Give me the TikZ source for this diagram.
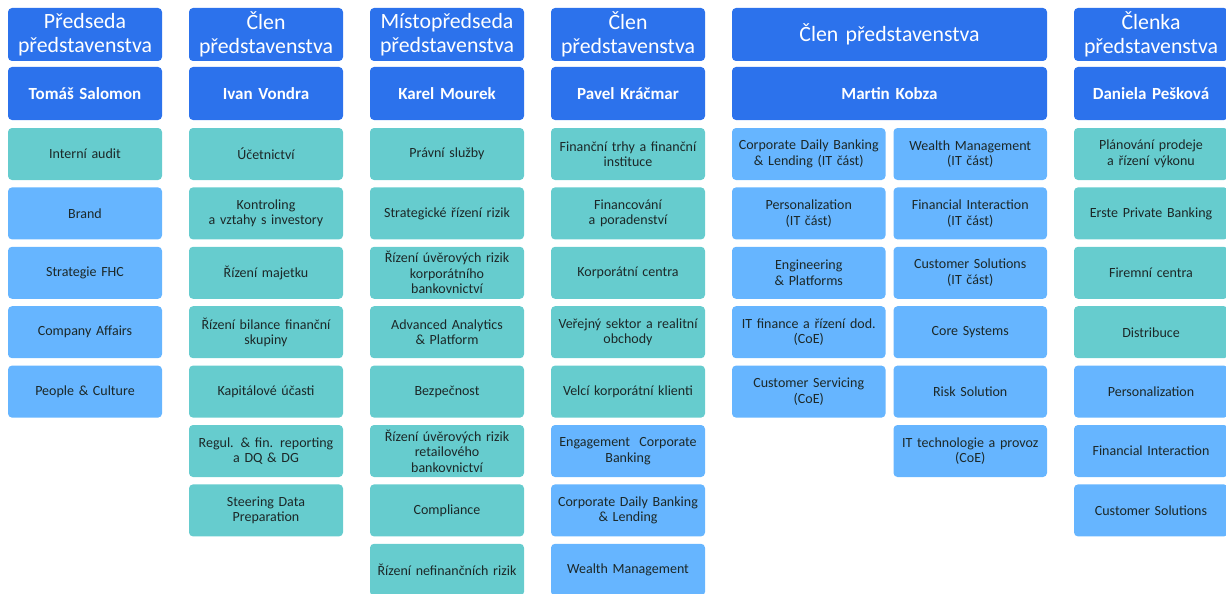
\documentclass[tikz,border=0pt]{standalone}
\usepackage{fontspec}
\setmainfont{Carlito}
\usetikzlibrary{positioning}
\definecolor{bdblue}{RGB}{44,114,236}
\definecolor{bdlightblue}{RGB}{102,181,255}
\definecolor{bdteal}{RGB}{102,204,206}
\definecolor{bdtext}{RGB}{28,40,40}
\tikzstyle{box} = [rectangle, rounded corners=4pt, inner sep=1pt, outer sep=0pt, minimum width=154pt, minimum height=52pt, text width=152pt, align=center]

\begin{document}
\begin{tikzpicture}[
    x=1pt, y=-1pt,
    node distance=7.4pt,
    headbox/.style={box, fill=bdblue, text=white, minimum height=53pt, font=\fontsize{21.8}{24}\selectfont},
    namebox/.style={box, fill=bdblue, text=white, minimum height=53pt, font=\bfseries\fontsize{17}{20}\selectfont},
    tealbox/.style={box, fill=bdteal, text=bdtext, font=\fontsize{14}{15.5}\selectfont},
    bluebox/.style={box, fill=bdlightblue, text=bdtext, font=\fontsize{14}{15.5}\selectfont},
    wide/.style={minimum width=315pt, text width=313pt},
    half/.style={minimum width=153.5pt, text width=151.5pt}
]
\useasboundingbox (0,0) rectangle (1226,594);

% Předseda
\node[headbox] (predseda) at (85,34.5) {Předseda\\představenstva};
\node[namebox, below=6pt of predseda] (salomon) {Tomáš Salomon};
\node[tealbox, below=8pt of salomon] (audit) {Interní audit};
\node[bluebox, below=of audit] (brand) {Brand};
\node[bluebox, below=of brand] (strategie) {Strategie FHC};
\node[bluebox, below=of strategie] (affairs) {Company Affairs};
\node[bluebox, below=of affairs] (people) {People \& Culture};

% Člen - Vondra
\node[headbox] (clenA) at (266,34.5) {Člen\\představenstva};
\node[namebox, below=6pt of clenA] (vondra) {Ivan Vondra};
\node[tealbox, below=8pt of vondra] (ucetnictvi) {Účetnictví};
\node[tealbox, below=of ucetnictvi] (kontroling) {Kontroling\\a vztahy s investory};
\node[tealbox, below=of kontroling] (majetek) {Řízení majetku};
\node[tealbox, below=of majetek] (bilance) {Řízení bilance finanční\\skupiny};
\node[tealbox, below=of bilance] (ucasti) {Kapitálové účasti};
\node[tealbox, below=of ucasti] (reporting) {Regul. \& fin. reporting\\a DQ \& DG};
\node[tealbox, below=of reporting] (steering) {Steering Data\\Preparation};

% Místopředseda
\node[headbox] (mistopredseda) at (447,34.5) {Místopředseda\\představenstva};
\node[namebox, below=6pt of mistopredseda] (mourek) {Karel Mourek};
\node[tealbox, below=8pt of mourek] (pravni) {Právní služby};
\node[tealbox, below=of pravni] (strategicke) {Strategické řízení rizik};
\node[tealbox, below=of strategicke] (korprizika) {Řízení úvěrových rizik\\korporátního\\bankovnictví};
\node[tealbox, below=of korprizika] (analytics) {Advanced Analytics\\\& Platform};
\node[tealbox, below=of analytics] (bezpecnost) {Bezpečnost};
\node[tealbox, below=of bezpecnost] (retailrizika) {Řízení úvěrových rizik\\retailového\\bankovnictví};
\node[tealbox, below=of retailrizika] (compliance) {Compliance};
\node[tealbox, below=of compliance] (nefinancni) {Řízení nefinančních rizik};

% Člen - Kráčmar
\node[headbox] (clenB) at (628,34.5) {Člen\\představenstva};
\node[namebox, below=6pt of clenB] (kracmar) {Pavel Kráčmar};
\node[tealbox, below=8pt of kracmar] (trhy) {Finanční trhy a finanční\\instituce};
\node[tealbox, below=of trhy] (financovani) {Financování\\a poradenství};
\node[tealbox, below=of financovani] (korpcentra) {Korporátní centra};
\node[tealbox, below=of korpcentra] (verejny) {Veřejný sektor a realitní\\obchody};
\node[tealbox, below=of verejny] (velci) {Velcí korporátní klienti};
\node[bluebox, below=of velci] (engagement) {Engagement~~Corporate\\Banking};
\node[bluebox, below=of engagement] (cdbl) {Corporate Daily Banking\\\& Lending};
\node[bluebox, below=of cdbl] (wealth) {Wealth Management};

% Člen - Kobza (two columns)
\node[headbox, wide] (clenC) at (889.5,34.5) {Člen představenstva};
\node[namebox, wide, below=6pt of clenC] (kobza) {Martin Kobza};
\node[bluebox, half, below right=8pt and 0pt of kobza.south west] (itcdbl) {Corporate Daily Banking\\\& Lending (IT část)};
\node[bluebox, half, below=of itcdbl] (itpers) {Personalization\\(IT část)};
\node[bluebox, half, below=of itpers] (engineering) {Engineering\\\& Platforms};
\node[bluebox, half, below=of engineering] (itfinance) {IT finance a řízení dod.\\(CoE)};
\node[bluebox, half, below=of itfinance] (servicing) {Customer Servicing\\(CoE)};
\node[bluebox, half, below left=8pt and 0pt of kobza.south east] (itwealth) {Wealth Management\\(IT část)};
\node[bluebox, half, below=of itwealth] (itinteraction) {Financial Interaction\\(IT část)};
\node[bluebox, half, below=of itinteraction] (itsolutions) {Customer Solutions\\(IT část)};
\node[bluebox, half, below=of itsolutions] (core) {Core Systems};
\node[bluebox, half, below=of core] (risk) {Risk Solution};
\node[bluebox, half, below=of risk] (ittech) {IT technologie a provoz\\(CoE)};

% Členka - Pešková
\node[headbox] (clenka) at (1151,34.5) {Členka\\představenstva};
\node[namebox, below=6pt of clenka] (peskova) {Daniela Pešková};
\node[tealbox, below=8pt of peskova] (planovani) {Plánování prodeje\\a řízení výkonu};
\node[tealbox, below=of planovani] (erste) {Erste Private Banking};
\node[tealbox, below=of erste] (firemni) {Firemní centra};
\node[tealbox, below=of firemni] (distribuce) {Distribuce};
\node[bluebox, below=of distribuce] (personalization) {Personalization};
\node[bluebox, below=of personalization] (interaction) {Financial Interaction};
\node[bluebox, below=of interaction] (solutions) {Customer Solutions};

\end{tikzpicture}
\end{document}
